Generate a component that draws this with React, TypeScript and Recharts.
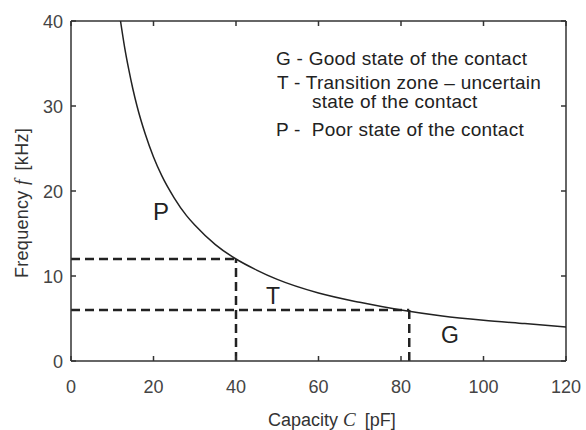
import {
  ComposedChart,
  Line,
  ReferenceLine,
  XAxis,
  YAxis,
} from 'recharts'

const capacity = [12, 13, 14, 15, 16, 18, 20, 22, 25, 28, 30, 35, 40, 45, 50, 60, 70, 80, 90, 100, 110, 120]
const frequency = [40, 36.9, 34.3, 32, 30, 26.7, 24, 21.8, 19.2, 17.1, 16, 13.7, 12, 10.7, 9.6, 8, 6.9, 6, 5.3, 4.8, 4.4, 4]
const xTicks = [0, 20, 40, 60, 80, 100, 120]
const yTicks = [0, 10, 20, 30, 40]

// zone boundaries: upper and lower limit of the transition zone
const upperLimit = { c: 40, f: 12 }
const lowerLimit = { c: 82, f: 6 }

const legendLines = [
  'G - Good state of the contact',
  'T - Transition zone \u2013 uncertain',
  'state of the contact',
  'P -  Poor state of the contact',
]

const FONT = '"Liberation Sans", Arial, sans-serif'
const SERIF = '"Liberation Serif", serif'
const INK = '#222'
const AXIS = '#333'

// plot frame in pixels (from margins / axis sizes below)
const TOP = 21
const BOTTOM = 361
const LEFT = 71
const RIGHT = 566

function XTick(props: any) {
  const { x, payload } = props
  return (
    <g>
      <line x1={x} x2={x} y1={BOTTOM} y2={BOTTOM - 5} stroke={AXIS} strokeWidth={1.5} />
      <line x1={x} x2={x} y1={TOP} y2={TOP + 5} stroke={AXIS} strokeWidth={1.5} />
      <text x={x} y={393} textAnchor="middle" fontFamily={FONT} fontSize={18} fill="#444">
        {payload.value}
      </text>
    </g>
  )
}

function YTick(props: any) {
  const { y, payload } = props
  return (
    <g>
      <line x1={LEFT} x2={LEFT + 5} y1={y} y2={y} stroke={AXIS} strokeWidth={1.5} />
      <line x1={RIGHT} x2={RIGHT - 5} y1={y} y2={y} stroke={AXIS} strokeWidth={1.5} />
      <text x={63} y={y + 7} textAnchor="end" fontFamily={FONT} fontSize={18} fill="#444">
        {payload.value}
      </text>
    </g>
  )
}

const zoneLabel = (left: number, top: number, size: number): any => ({
  position: 'absolute',
  left,
  top,
  fontFamily: FONT,
  fontSize: size,
  lineHeight: `${size}px`,
  color: INK,
})

export default function App() {
  const data = capacity.map((c, i) => ({ c, f: frequency[i] }))
  const dash = { stroke: INK, strokeWidth: 2.5, strokeDasharray: '9 5' }
  const frame = { stroke: AXIS, strokeWidth: 1.5 }
  const legend = { whiteSpace: 'pre' as const, letterSpacing: 0.25 }

  return (
    <div style={{ position: 'absolute', left: 0, top: 0, width: 586, height: 430, background: '#fff' }}>
      <ComposedChart width={586} height={430} data={data} margin={{ top: TOP, right: 586 - RIGHT, left: 0, bottom: 0 }}>
        <XAxis
          dataKey="c"
          type="number"
          domain={[0, 120]}
          ticks={xTicks}
          tick={<XTick />}
          tickLine={false}
          height={430 - BOTTOM}
          axisLine={frame}
          allowDataOverflow
          label={{
            content: () => (
              <text x={268} y={426} fontFamily={FONT} fontSize={18} fill="#333">
                Capacity{' '}
                <tspan fontFamily={SERIF} fontStyle="italic" fontSize={19}>C</tspan>
                <tspan dx={9}>[pF]</tspan>
              </text>
            ),
          }}
        />
        <YAxis
          type="number"
          domain={[0, 40]}
          ticks={yTicks}
          tick={<YTick />}
          tickLine={false}
          width={LEFT}
          axisLine={frame}
          allowDataOverflow
          label={{
            content: () => (
              <text
                x={0}
                y={0}
                transform="translate(28 203) rotate(-90)"
                textAnchor="middle"
                fontFamily={FONT}
                fontSize={18}
                letterSpacing={0.3}
                fill="#333"
              >
                Frequency{' '}
                <tspan fontFamily={SERIF} fontStyle="italic" fontSize={19}>f</tspan>
                <tspan dx={9}>[kHz]</tspan>
              </text>
            ),
          }}
        />
        <ReferenceLine y={40} {...frame} />
        <ReferenceLine x={120} {...frame} />
        <ReferenceLine segment={[{ x: 0, y: upperLimit.f }, { x: upperLimit.c, y: upperLimit.f }]} {...dash} />
        <ReferenceLine segment={[{ x: upperLimit.c, y: 0 }, { x: upperLimit.c, y: upperLimit.f }]} {...dash} />
        <ReferenceLine segment={[{ x: 0, y: lowerLimit.f }, { x: lowerLimit.c, y: lowerLimit.f }]} {...dash} />
        <ReferenceLine segment={[{ x: lowerLimit.c, y: 0 }, { x: lowerLimit.c, y: lowerLimit.f }]} {...dash} />
        <Line
          dataKey="f"
          type="monotone"
          stroke={INK}
          strokeWidth={1.5}
          dot={false}
          isAnimationActive={false}
        />
      </ComposedChart>
      <div style={{ ...zoneLabel(276, 49, 19), ...legend }}>{legendLines[0]}</div>
      <div style={{ ...zoneLabel(277, 73, 19), ...legend }}>{legendLines[1]}</div>
      <div style={{ ...zoneLabel(312, 92, 19), ...legend }}>{legendLines[2]}</div>
      <div style={{ ...zoneLabel(276, 120, 19), ...legend }}>{legendLines[3]}</div>
      <div style={zoneLabel(153, 200, 24)}>P</div>
      <div style={zoneLabel(266, 285, 23)}>T</div>
      <div style={zoneLabel(441, 324, 23)}>G</div>
    </div>
  )
}
